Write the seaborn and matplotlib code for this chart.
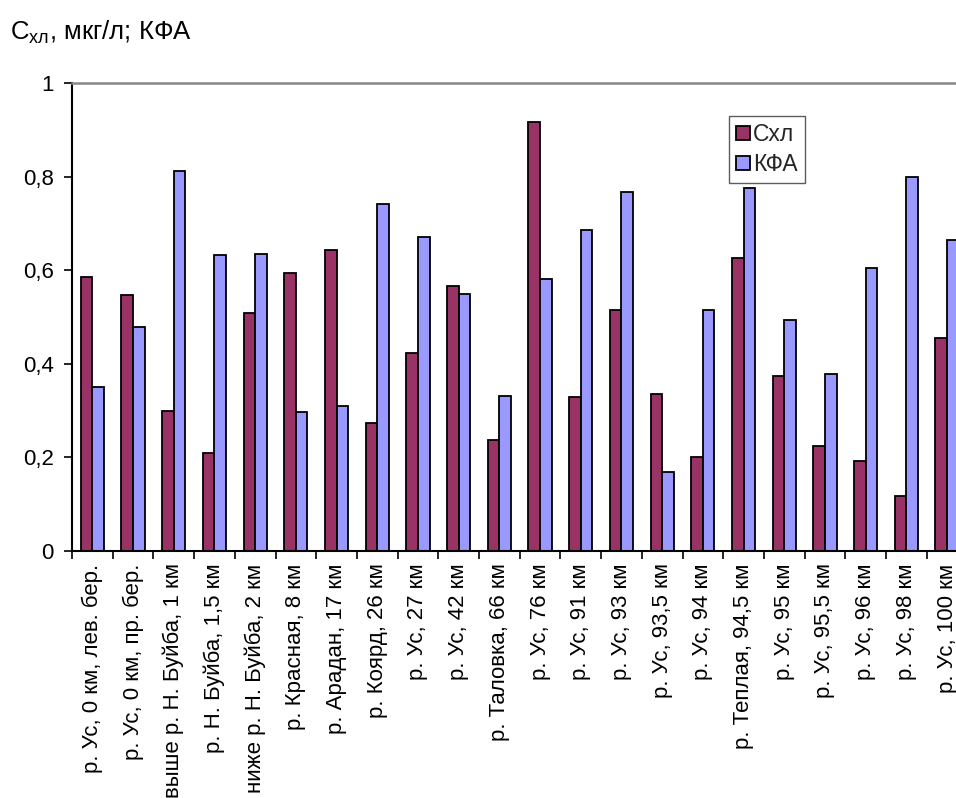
import matplotlib
matplotlib.use("Agg")
import matplotlib.pyplot as plt
from matplotlib.ticker import FixedLocator, FuncFormatter
import numpy as np
import pandas as pd
import seaborn as sns

stations = [
    "р. Ус, 0 км, лев. бер.", "р. Ус, 0 км, пр. бер.", "выше р. Н. Буйба, 1 км",
    "р. Н. Буйба, 1,5 км", "ниже р. Н. Буйба, 2 км", "р. Красная, 8 км",
    "р. Арадан, 17 км", "р. Коярд, 26 км", "р. Ус, 27 км", "р. Ус, 42 км",
    "р. Таловка, 66 км", "р. Ус, 76 км", "р. Ус, 91 км", "р. Ус, 93 км",
    "р. Ус, 93,5 км", "р. Ус, 94 км", "р. Теплая, 94,5 км", "р. Ус, 95 км",
    "р. Ус, 95,5 км", "р. Ус, 96 км", "р. Ус, 98 км", "р. Ус, 100 км",
]
chl = [0.586, 0.546, 0.299, 0.210, 0.509, 0.593, 0.643, 0.274, 0.423, 0.566,
       0.238, 0.916, 0.330, 0.515, 0.335, 0.201, 0.626, 0.374, 0.224, 0.193,
       0.118, 0.456]
kfa = [0.350, 0.479, 0.812, 0.632, 0.635, 0.297, 0.310, 0.741, 0.671, 0.549,
       0.331, 0.581, 0.685, 0.768, 0.168, 0.514, 0.775, 0.493, 0.378, 0.605,
       0.800, 0.665]
series_names = ["Схл", "КФА"]
series_colors = ["#993366", "#9999FF"]
y_ticks = [0, 0.2, 0.4, 0.6, 0.8, 1.0]

df = pd.DataFrame({
    "station": stations * 2,
    "value": chl + kfa,
    "series": [series_names[0]] * len(stations) + [series_names[1]] * len(stations),
})

sns.set_theme(style="white")
plt.rcParams["font.family"] = ["Liberation Sans", "DejaVu Sans"]
plt.rcParams["mathtext.fontset"] = "custom"
plt.rcParams["mathtext.rm"] = "Liberation Sans"

W, H = 956, 798
fig = plt.figure(figsize=(W / 100, H / 100), dpi=100)
left_px, right_px, top_px, bottom_px = 72, 967.4, 83, 551
ax = fig.add_axes([left_px / W, 1 - bottom_px / H,
                   (right_px - left_px) / W, (bottom_px - top_px) / H])

sns.barplot(data=df, x="station", y="value", hue="series", order=stations,
            hue_order=series_names, palette=series_colors, width=0.57,
            gap=0, edgecolor="black", linewidth=1.3, saturation=1,
            errorbar=None, ax=ax)

n = len(stations)
ax.set_xlim(-0.5, n - 0.5)
ax.set_ylim(0, 1)
ax.set_xlabel("")
ax.set_ylabel("")

ax.set_yticks(y_ticks)
ax.yaxis.set_major_formatter(FuncFormatter(lambda v, p: ("%g" % round(v, 2)).replace(".", ",")))
ax.tick_params(axis="y", which="major", direction="out", length=6, width=1.2,
               color="black", pad=7, labelsize=16, labelcolor="black", left=True)

ax.set_xticks(range(n))
ax.set_xticklabels(stations, rotation=90, ha="center", va="top")
ax.xaxis.set_minor_locator(FixedLocator(np.arange(-0.5, n, 1.0)))
ax.tick_params(axis="x", which="major", length=0, pad=9, labelsize=16,
               labelcolor="black", bottom=True)
ax.tick_params(axis="x", which="minor", direction="out", length=6, width=1.2,
               color="black", bottom=True)

for side in ("left", "bottom"):
    ax.spines[side].set_color("black")
    ax.spines[side].set_linewidth(1.5)
ax.spines["top"].set_color("#888888")
ax.spines["top"].set_linewidth(1.8)
ax.spines["right"].set_visible(False)

leg = ax.legend(loc="upper left", bbox_to_anchor=(0.734, 0.929),
                borderaxespad=0, frameon=True, fancybox=False, fontsize=16.5,
                handlelength=0.6, handleheight=0.6, handletextpad=0.15,
                borderpad=0.3, labelspacing=0.3)
leg.get_frame().set_edgecolor("#333333")
leg.get_frame().set_linewidth(1.0)
for h in leg.legend_handles:
    h.set_edgecolor("black")
    h.set_linewidth(1.3)

fig.text(10 / W, 1 - 32 / H, r"$\mathregular{С_{хл}}$, мкг/л; КФА",
         fontsize=18.5, color="black", ha="left", va="center")

fig.savefig("out.png", dpi=100)
